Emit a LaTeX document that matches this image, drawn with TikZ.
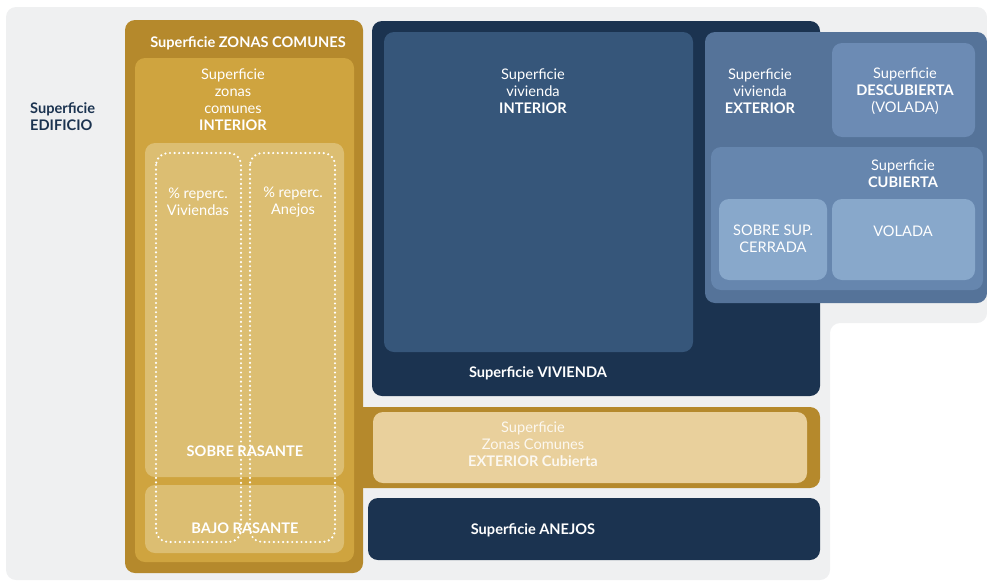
\documentclass[tikz,border=0pt]{standalone}
\usepackage{fontspec}
\setmainfont{Lato}
\usetikzlibrary{positioning}

\definecolor{bggray}{HTML}{EFF0F1}
\definecolor{golddark}{HTML}{B5892C}
\definecolor{goldmid}{HTML}{CFA43F}
\definecolor{goldlight}{HTML}{DCBE72}
\definecolor{goldpale}{HTML}{E9D09C}
\definecolor{navy}{HTML}{1B3350}
\definecolor{bluemid}{HTML}{36567A}
\definecolor{blueext}{HTML}{557399}
\definecolor{bluedesc}{HTML}{6C8BB4}
\definecolor{bluecub}{HTML}{6686AE}
\definecolor{bluelight}{HTML}{88A8CB}

\begin{document}
\begin{tikzpicture}[
	x = 1pt,
	y = -1pt,
	box/.style = {
		rounded corners = 10pt
	},
	dotbox/.style = {
		draw = white,
		line width = 2.4pt,
		line cap = round,
		dash pattern = on 0pt off 4.6pt,
		rounded corners = 12pt
	},
	lbl/.style = {
		text = white,
		align = center,
		inner sep = 0pt,
		font = \fontsize{14.6}{17}\selectfont
	},
	title/.style = {
		lbl,
		font = \bfseries\fontsize{14.6}{17}\selectfont
	}
	]
	
	\useasboundingbox (0,0) rectangle (987,584);
	\fill[bggray, rounded corners = 10pt] (6,7) -- (987,7) -- (987,323) -- (830,323) -- (830,580) -- (6,580) -- cycle;
	
	% zonas comunes
	\fill[box, golddark] (125,20) rectangle (363,573);
	\fill[box, golddark] (340,407) rectangle (820,488);
	\fill[box, goldmid] (135,58) rectangle (354,562);
	\fill[box, goldlight] (145,143) rectangle (344,477);
	\fill[box, goldlight] (145,485) rectangle (344,553);
	\fill[box, goldpale] (373,412) rectangle (807,483);
	
	% vivienda
	\fill[box, navy] (372,21) rectangle (820,396);
	\fill[box, bluemid] (384,32) rectangle (693,352);
	\fill[box, blueext] (705,32) rectangle (987,303);
	\fill[box, bluedesc] (832,43) rectangle (975,137);
	\fill[box, bluecub] (711,147) rectangle (983,290);
	\fill[box, bluelight] (719,199) rectangle (827,280);
	\fill[box, bluelight] (832,199) rectangle (975,280);
	
	% anejos
	\fill[box, navy] (368,498) rectangle (820,560);
	
	\node (edificio) [lbl, text=navy, align=left, anchor=west, font=\bfseries\fontsize{14.6}{17}\selectfont] at (30,117) {Superficie\\EDIFICIO};
	
	\node (zc_title) [title] at (248,43) {Superficie ZONAS COMUNES};
	\node (zc_int) [lbl] at (233,100) {Superficie\\zonas\\comunes\\\textbf{INTERIOR}};
	\node (rep_viv) [lbl] at (198,202) {\% reperc.\\Viviendas};
	\node (rep_anej) [lbl] at (293,202) {\% reperc.\\Anejos};
	\node (sobre_ras) [title] at (245,451) {SOBRE RASANTE};
	\node (bajo_ras) [title] at (245,528) {BAJO RASANTE};
	\node (zc_ext) [lbl, text=white!85!goldpale] at (533,444) {Superficie\\Zonas Comunes\\\textbf{EXTERIOR Cubierta}};
	
	\node (viv_int) [lbl] at (533,91) {Superficie\\vivienda\\\textbf{INTERIOR}};
	\node (viv_title) [title] at (538,373) {Superficie VIVIENDA};
	\node (viv_ext) [lbl] at (760,91) {Superficie\\vivienda\\\textbf{EXTERIOR}};
	\node (descub) [lbl] at (905,91) {Superficie\\\textbf{DESCUBIERTA}\\(VOLADA)};
	\node (cubierta) [lbl] at (903,174) {Superficie\\\textbf{CUBIERTA}};
	\node (sobre_sup) [lbl] at (773,239) {SOBRE SUP.\\CERRADA};
	\node (volada) [lbl] at (903,231) {VOLADA};
	
	\node (anejos) [title] at (533,530) {Superficie ANEJOS};
	
	% repercusiones
	\draw[dotbox] (156,153) rectangle (241,542);
	\draw[dotbox] (250,153) rectangle (335,542);
	
\end{tikzpicture}
\end{document}
